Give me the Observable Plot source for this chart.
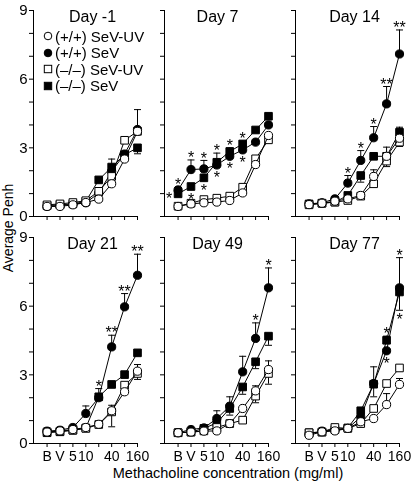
<!DOCTYPE html>
<html><head><meta charset="utf-8">
<script src="https://cdn.jsdelivr.net/npm/d3@7"></script>
<script src="https://cdn.jsdelivr.net/npm/@observablehq/plot@0.6"></script>
<style>
body{margin:0;background:#fff;font-family:"Liberation Sans",Arial,Helvetica,sans-serif;}
#chart{position:relative;width:417px;height:481px;overflow:hidden;background:#fff;}
.panel{position:absolute;will-change:transform;}
#legend{position:absolute;left:43px;top:28px;font-size:15px;color:#000;}
#legend .item{display:flex;align-items:center;height:16.5px;white-space:nowrap;}
#legend svg{margin-right:2px;}
</style></head><body>
<div id="chart"></div>
<script>
// ---------- data ----------
const categories = ["B","V","5","10","20","40","80","160"];
const xTickLabels = ["B","V","5","10","","40","","160"];
const yTickValues = [0,1,2,3,4,5,6,7,8,9];
const yTickLabels = ["0","","","3","","","6","","","9"];
const days = ["Day -1","Day 7","Day 14","Day 21","Day 49","Day 77"];
const seriesNames = ["(+/+) SeV-UV","(+/+) SeV","(\u2013/\u2013) SeV-UV","(\u2013/\u2013) SeV"];

// values per day (rows follow `days`)
const wtUV = [
  [0.44,0.44,0.51,0.61,0.76,1.43,2.51,3.72],
  [0.44,0.55,0.60,0.63,0.70,1.03,2.27,3.54],
  [0.52,0.58,0.67,0.77,0.92,1.75,2.63,3.42],
  [0.50,0.55,0.61,0.70,0.84,1.43,2.26,3.16],
  [0.47,0.50,0.54,0.55,0.87,1.53,2.30,3.23],
  [0.36,0.51,0.55,0.66,0.95,1.09,1.70,2.58]
];
const wtSeV = [
  [0.44,0.47,0.54,0.60,1.02,1.97,2.73,3.80],
  [1.16,2.05,2.08,2.25,2.63,2.91,3.25,4.00],
  [0.55,0.60,0.77,1.46,2.45,3.44,4.92,7.10],
  [0.54,0.58,0.70,1.31,2.00,4.22,5.97,7.35],
  [0.47,0.61,0.68,1.09,1.63,3.13,4.59,6.80],
  [0.41,0.54,0.58,0.66,1.16,2.62,4.05,6.80]
];
const koUV = [
  [0.51,0.55,0.61,0.69,1.10,1.75,3.33,3.72],
  [0.45,0.58,0.74,0.80,0.89,1.28,2.52,3.35],
  [0.51,0.58,0.63,0.70,0.89,1.43,2.42,3.25],
  [0.51,0.54,0.58,0.66,0.83,1.38,2.55,3.06],
  [0.47,0.50,0.55,0.70,0.87,1.02,2.07,3.06],
  [0.47,0.50,0.70,0.66,0.87,1.53,2.62,3.30]
];
const koSeV = [
  [0.47,0.51,0.55,0.66,1.60,2.16,2.70,3.00],
  [0.99,1.31,1.69,2.37,2.84,3.17,3.78,4.38],
  [0.55,0.58,0.63,0.92,1.79,2.63,2.63,3.68],
  [0.47,0.51,0.58,0.68,2.04,2.58,3.01,3.96],
  [0.47,0.50,0.66,0.90,1.53,2.47,3.57,4.69],
  [0.47,0.50,0.61,0.68,1.43,2.59,4.51,6.62]
];
// one-sided error bars (positive = drawn upward, negative = downward, 0 = none)
const wtUVErr = [
  [0,0,0,0,0,0,0,0],
  [0,0,0,0,0,0,0,0],
  [0,0,0,0,0,0.29,0.40,0],
  [0,0,0,0,0,0.24,0,0.29],
  [0,0,0,0,0,0,0.22,0.38],
  [0,0,0,0,0,0,0.48,0.26]
];
const wtSeVErr = [
  [0,0,0,0,0,0,0,0.87],
  [0,0.42,0.37,0,0,0,0,0],
  [0,0,0,0.33,0.43,0.49,0.76,1.05],
  [0,0,0,0.33,0.40,0.51,0.58,0.92],
  [0,0,0,0.34,0.41,0.68,0.68,0.87],
  [0,0,0,0,0,-0.58,0,1.32]
];
const koUVErr = [
  [0,0,0,0,0,0,0.15,0],
  [0,0,0,0,0,0,0,0],
  [0,0,0,0,0,0,-0.24,-0.19],
  [0,0,0,0,0,-0.65,0,-0.26],
  [0,0,0,0,0,0,-0.29,-0.47],
  [0,0,0,0,0,0,0,0]
];
const koSeVErr = [
  [0,0,0,0,0,0.35,0,-0.26],
  [0,0,0,0.40,0.15,0.12,0,0],
  [0,0,0,0,-0.29,0,0,0.22],
  [0,0,0,0,0,0,0,0],
  [0,0,0,0,-0.29,-0.32,-0.30,-0.40],
  [0,0,0,0,0,0.76,0.18,-0.80]
];
// significance marks: [day, category, series, side, text]
const stars = [
  ["Day 7","B",1,"above","*"],["Day 7","B",3,"left","*"],
  ["Day 7","V",1,"above","*"],["Day 7","V",3,"below","*"],
  ["Day 7","5",1,"above","*"],["Day 7","5",3,"below","*"],
  ["Day 7","10",3,"above","*"],["Day 7","10",1,"below","*"],
  ["Day 7","20",3,"above","*"],["Day 7","20",1,"below","*"],
  ["Day 7","40",3,"above","*"],["Day 7","40",1,"below","*"],
  ["Day 14","10",1,"above","*"],["Day 14","20",1,"above","*"],["Day 14","40",1,"above","*"],
  ["Day 14","80",1,"above","**"],["Day 14","160",1,"above","**"],
  ["Day 21","20",1,"above","*"],["Day 21","40",1,"above","**"],
  ["Day 21","80",1,"above","**"],["Day 21","160",1,"above","**"],
  ["Day 49","80",1,"above","*"],["Day 49","160",1,"above","*"],
  ["Day 77","80",3,"above","*"],["Day 77","80",1,"below","*"],
  ["Day 77","160",1,"above","*"],["Day 77","160",3,"below","*"]
];

// ---------- build table ----------
const seriesValues = [wtUV, wtSeV, koUV, koSeV];
const seriesErrs = [wtUVErr, wtSeVErr, koUVErr, koSeVErr];
const seriesFilled = [false, true, false, true];
const seriesSymbol = ["circle","circle","square","square"];
const rows = [];
days.forEach((day, d) => {
  seriesValues.forEach((vals, s) => {
    categories.forEach((c, i) => {
      rows.push({day, s, cat: i, value: vals[d][i], err: seriesErrs[s][d][i]});
    });
  });
});

// ---------- layout ----------
const FONT = '"Liberation Sans", Arial, Helvetica, sans-serif';
const colLeft = [0, 131, 262];
const rowTop = [0, 227];
const rowH = [226, 254];
const W = 150;
const xDomain = [-1.05, categories.length - 1];
const titleDx = [7, 1, 7];
const drawOrder = [1, 3, 2, 0];
const capSymbol = {draw(ctx){ ctx.moveTo(-3.5, 0); ctx.lineTo(3.5, 0); }};

const chart = document.getElementById("chart");

// axis titles (background svg)
const ns = "http://www.w3.org/2000/svg";
const bg = document.createElementNS(ns, "svg");
bg.setAttribute("width", 417); bg.setAttribute("height", 481);
bg.style.position = "absolute"; bg.style.left = "0"; bg.style.top = "0";
bg.innerHTML = `<text transform="translate(12.5,228) rotate(-90)" text-anchor="middle" font-family='${FONT}' font-size="14">Average Penh</text>
<text x="228" y="478" text-anchor="middle" font-family='${FONT}' font-size="14.5">Methacholine concentration (mg/ml)</text>`;
chart.appendChild(bg);

days.forEach((day, k) => {
  const col = k % 3, row = Math.floor(k / 3);
  const data = rows.filter(r => r.day === day);
  const marks = [];
  marks.push(Plot.ruleX([xDomain[0]], {y1: yTickValues[0], y2: yTickValues[yTickValues.length-1], stroke: "black"}));
  marks.push(Plot.ruleY([0], {x1: xDomain[0], x2: xDomain[1], stroke: "black"}));
  marks.push(Plot.axisY({ticks: yTickValues, tickSize: 4, tickPadding: 2, fontSize: 15, label: null,
    tickFormat: d => col === 0 ? yTickLabels[yTickValues.indexOf(d)] : ""}));
  marks.push(Plot.axisX({ticks: d3.range(categories.length), tickSize: 4, tickPadding: 4, fontSize: 14, label: null,
    tickFormat: i => row === 1 ? xTickLabels[i] : ""}));
  drawOrder.forEach(s => {
    const sd = data.filter(r => r.s === s);
    const ed = sd.filter(r => r.err !== 0);
    marks.push(Plot.ruleX(ed, {x: "cat", y1: "value", y2: r => r.value + r.err, stroke: "black", strokeWidth: 1}));
    marks.push(Plot.dot(ed, {x: "cat", y: r => r.value + r.err, symbol: capSymbol, stroke: "black", strokeWidth: 1}));
    marks.push(Plot.line(sd, {x: "cat", y: "value", stroke: "black", strokeWidth: 1}));
    marks.push(Plot.dot(sd, {x: "cat", y: "value", symbol: seriesSymbol[s], r: seriesSymbol[s] === "square" ? 4.3 : 4.1,
      fill: seriesFilled[s] ? "black" : "white", stroke: "black", strokeWidth: 1}));
  });
  // significance asterisks
  const st = stars.filter(a => a[0] === day).map(([d, c, s, side, text]) => {
    const p = data.find(r => r.s === s && r.cat === categories.indexOf(c));
    const cap = (side === "above" && p.err > 0) || (side === "below" && p.err < 0);
    return {cat: p.cat, y: cap ? p.value + p.err : p.value, side, cap, text};
  });
  const starGroups = [
    {side: "above", cap: true, dx: 0, dy: -2},
    {side: "above", cap: false, dx: 0, dy: -5},
    {side: "below", cap: true, dx: 0, dy: 10},
    {side: "below", cap: false, dx: 0, dy: 13},
    {side: "left", cap: false, dx: -9, dy: 5}
  ];
  starGroups.forEach(g => {
    marks.push(Plot.text(st.filter(a => a.side === g.side && a.cap === g.cap),
      {x: "cat", y: "y", text: "text", dx: g.dx, dy: g.dy, fontSize: 16, fill: "black"}));
  });
  marks.push(Plot.text([day], {frameAnchor: "top", lineAnchor: "top", dx: titleDx[col], fontSize: 16, fill: "black"}));

  const svg = Plot.plot({
    width: W, height: rowH[row],
    marginLeft: 33, marginRight: 13, marginTop: 10, marginBottom: rowH[row] - 216,
    x: {domain: xDomain},
    y: {domain: [0, 9]},
    style: {background: "transparent", overflow: "visible", fontFamily: FONT, color: "black", fontSize: "15px"},
    marks
  });
  svg.classList.add("panel");
  svg.style.left = colLeft[col] + "px";
  svg.style.top = rowTop[row] + "px";
  svg.style.maxWidth = "none";
  chart.appendChild(svg);
});

// legend
const legend = document.createElement("div");
legend.id = "legend";
seriesNames.forEach((name, s) => {
  const item = document.createElement("div");
  item.className = "item";
  const fill = seriesFilled[s] ? "black" : "white";
  const shape = seriesSymbol[s] === "circle"
    ? `<circle cx="5" cy="5" r="3.8" fill="${fill}" stroke="black"/>`
    : `<rect x="1.3" y="1.3" width="7.4" height="7.4" fill="${fill}" stroke="black"/>`;
  item.innerHTML = `<svg width="10" height="10">${shape}</svg><span>${name}</span>`;
  legend.appendChild(item);
});
chart.appendChild(legend);
</script>
</body></html>
